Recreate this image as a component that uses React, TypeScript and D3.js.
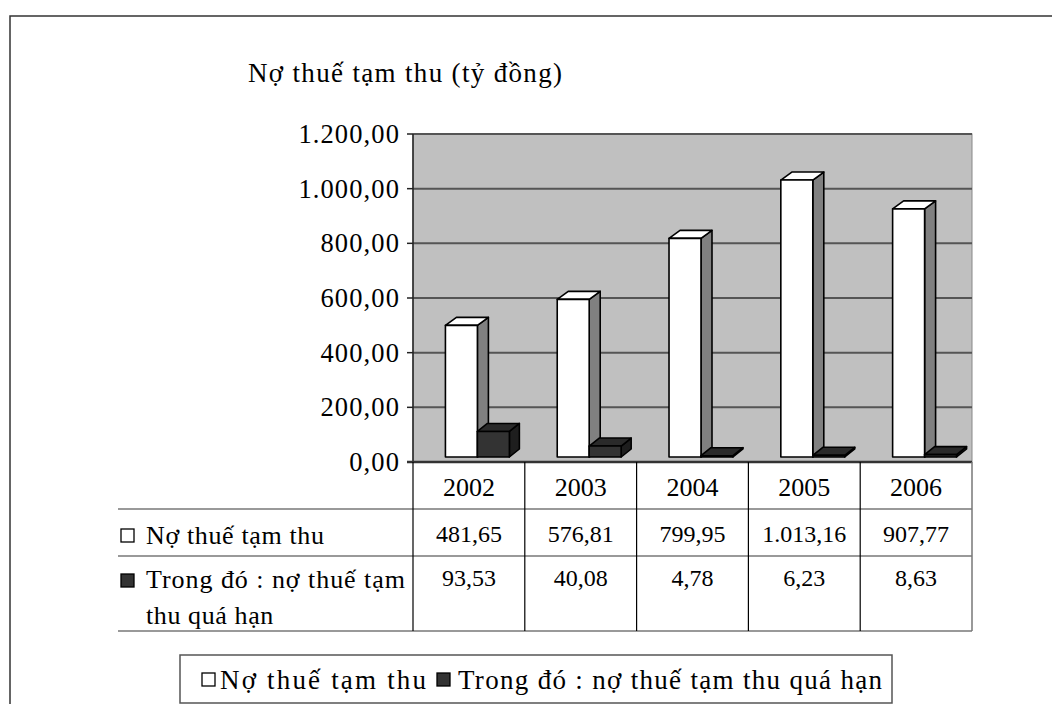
import React from "react";
import * as d3 from "d3";

const years = ["2002", "2003", "2004", "2005", "2006"];
const totalDebt = [481.65, 576.81, 799.95, 1013.16, 907.77];
const overdueDebt = [93.53, 40.08, 4.78, 6.23, 8.63];
const yTicks = [0, 200, 400, 600, 800, 1000, 1200];
const titleText = "Nợ thuế tạm thu (tỷ đồng)";
const seriesNames = ["Nợ thuế tạm thu", "Trong đó : nợ thuế tạm thu quá hạn"];
const rowLabel2Lines = ["Trong đó : nợ thuế tạm", "thu quá hạn"];

const W = 1052;
const H = 704;
const FONT = "Liberation Serif";

const locale = d3.formatLocale({ decimal: ",", thousands: ".", grouping: [3], currency: ["", ""] });
const fmt = locale.format(",.2f");

export default function App() {
  const plotL = 413, plotR = 972, plotT = 134, plotB = 462;
  const y = d3.scaleLinear().domain([0, 1200]).range([plotB, plotT]);
  const x = d3.scaleBand<string>().domain(years).range([plotL, plotR]).padding(0);
  const bw = x.bandwidth();
  const lift = 5;
  const barW = bw * 0.286;
  const dx = 11, dy = 8;

  const rowY = [509, 556, 631];
  const tableL = 118;

  const box = (x0: number, yTop: number, yBot: number, w: number, ddx: number, ddy: number, front: string, side: string, top: string, key: string) => {
    const frontP = `M${x0},${yTop}H${x0 + w}V${yBot}H${x0}Z`;
    const sideP = `M${x0 + w},${yTop}L${x0 + w + ddx},${yTop - ddy}V${yBot - ddy}L${x0 + w},${yBot}Z`;
    const topP = `M${x0},${yTop}L${x0 + ddx},${yTop - ddy}H${x0 + w + ddx}L${x0 + w},${yTop}Z`;
    return (
      <g key={key} stroke="#000" strokeWidth={1.6} strokeLinejoin="round">
        <path d={sideP} fill={side} />
        <path d={topP} fill={top} />
        <path d={frontP} fill={front} />
      </g>
    );
  };

  const ts = { fontFamily: FONT };

  return (
    <svg width={W} height={H} style={{ position: "absolute", left: 0, top: 0, background: "#fff", fontFamily: FONT }}>
      {/* outer frame */}
      <path d={`M10,${H}V16H${W}`} fill="none" stroke="#333" strokeWidth={1.5} />

      {/* title */}
      <text x={248} y={82} fontSize={27} textLength={314} lengthAdjust="spacing" fill="#000" style={ts}>{titleText}</text>

      {/* plot area */}
      <rect x={plotL} y={plotT} width={plotR - plotL} height={plotB - plotT} fill="#C0C0C0" stroke="#888" strokeWidth={1} />
      {yTicks.filter((t) => t > 0).map((t) => (
        <line key={"g" + t} x1={plotL} x2={plotR} y1={y(t)} y2={y(t)} stroke="#555" strokeWidth={2} />
      ))}

      {/* y axis */}
      <line x1={plotL} x2={plotL} y1={plotT} y2={plotB} stroke="#222" strokeWidth={1.5} />
      {yTicks.map((t) => (
        <g key={"t" + t}>
          <line x1={plotL - 6} x2={plotL} y1={y(t)} y2={y(t)} stroke="#222" strokeWidth={1.5} />
          <text x={400} y={y(t)} dy="0.34em" textAnchor="end" fontSize={26.5} letterSpacing={1.1} fill="#000" style={ts}>{fmt(t)}</text>
        </g>
      ))}

      {/* bars */}
      {years.map((yr, i) => {
        const x0 = (x(yr) as number) + bw * 0.29;
        const base = plotB - lift;
        return (
          <g key={yr}>
            {box(x0, y(totalDebt[i]) - lift, base, barW, dx, dy, "#FFFFFF", "#808080", "#FFFFFF", "a")}
            {box(x0 + barW, y(overdueDebt[i]) - lift, base, barW, dx - 1, dy, "#333333", "#1E1E1E", "#2A2A2A", "b")}
          </g>
        );
      })}

      {/* table */}
      <line x1={plotL - 6} x2={plotR} y1={plotB} y2={plotB} stroke="#333" strokeWidth={2.5} />
      {rowY.map((ry) => (
        <line key={"r" + ry} x1={tableL} x2={plotR} y1={ry} y2={ry} stroke="#777" strokeWidth={1.5} />
      ))}
      {years.map((yr) => (
        <line key={"v" + yr} x1={x(yr) as number} x2={x(yr) as number} y1={plotB} y2={rowY[2]} stroke="#000" strokeWidth={1.2} />
      ))}
      <line x1={plotR} x2={plotR} y1={plotB} y2={rowY[2]} stroke="#777" strokeWidth={1.5} />

      {years.map((yr, i) => {
        const cx = (x(yr) as number) + bw / 2;
        return (
          <g key={"c" + yr} textAnchor="middle" fill="#000">
            <text x={cx} y={487} dy="0.34em" fontSize={26} style={ts}>{yr}</text>
            <text x={cx} y={534} dy="0.34em" fontSize={24} style={ts}>{fmt(totalDebt[i])}</text>
            <text x={cx} y={578} dy="0.34em" fontSize={24} style={ts}>{fmt(overdueDebt[i])}</text>
          </g>
        );
      })}

      {/* row labels */}
      <rect x={121} y={529} width={13} height={13} fill="#fff" stroke="#000" strokeWidth={1.3} />
      <text x={146} y={535} dy="0.34em" fontSize={26} textLength={178} lengthAdjust="spacing" fill="#000" style={ts}>{seriesNames[0]}</text>
      <rect x={121} y={574} width={13} height={13} fill="#333" stroke="#000" strokeWidth={1.3} />
      <text x={146} y={579} dy="0.34em" fontSize={26} textLength={259} lengthAdjust="spacing" fill="#000" style={ts}>{rowLabel2Lines[0]}</text>
      <text x={146} y={615} dy="0.34em" fontSize={26} letterSpacing={0.6} fill="#000" style={ts}>{rowLabel2Lines[1]}</text>

      {/* legend */}
      <rect x={180} y={655} width={712} height={48} fill="#fff" stroke="#555" strokeWidth={1.5} />
      <rect x={202} y={673} width={13} height={13} fill="#fff" stroke="#000" strokeWidth={1.3} />
      <text x={220} y={680} dy="0.34em" fontSize={27} fill="#000" style={ts} textLength={206} lengthAdjust="spacing">{seriesNames[0]}</text>
      <rect x={437} y={673} width={13} height={13} fill="#333" stroke="#000" strokeWidth={1.3} />
      <text x={458} y={680} dy="0.34em" fontSize={27} fill="#000" style={ts} textLength={424} lengthAdjust="spacing">{seriesNames[1]}</text>
    </svg>
  );
}
